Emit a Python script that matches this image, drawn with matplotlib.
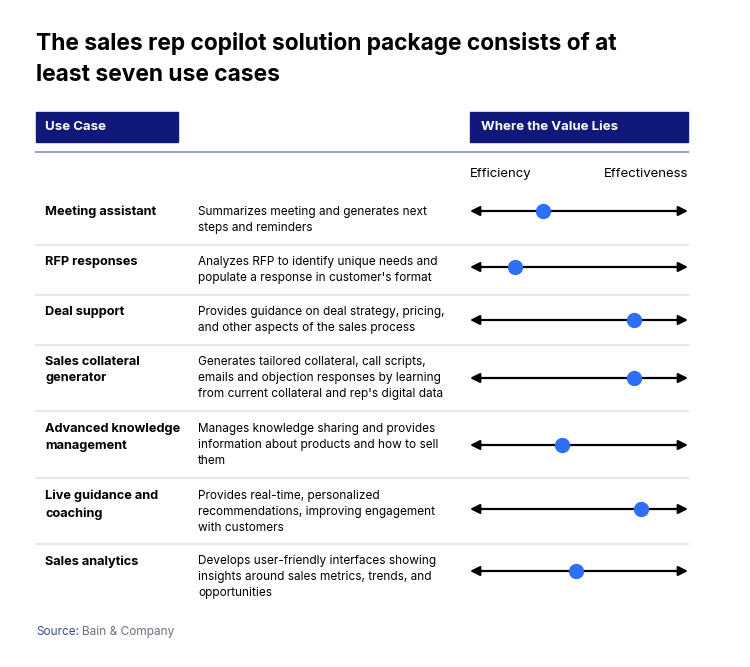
import matplotlib.pyplot as plt

plt.rcParams['font.family'] = ['Inter', 'DejaVu Sans']

# data
use_cases = ["Meeting assistant", "RFP responses", "Deal support",
             "Sales collateral\ngenerator", "Advanced knowledge\nmanagement",
             "Live guidance and\ncoaching", "Sales analytics"]
descriptions = [
    "Summarizes meeting and generates next\nsteps and reminders",
    "Analyzes RFP to identify unique needs and\npopulate a response in customer's format",
    "Provides guidance on deal strategy, pricing,\nand other aspects of the sales process",
    "Generates tailored collateral, call scripts,\nemails and objection responses by learning\nfrom current collateral and rep's digital data",
    "Manages knowledge sharing and provides\ninformation about products and how to sell\nthem",
    "Provides real-time, personalized\nrecommendations, improving engagement\nwith customers",
    "Develops user-friendly interfaces showing\ninsights around sales metrics, trends, and\nopportunities",
]
# 0 = Efficiency, 1 = Effectiveness
value_pos = [0.335, 0.206, 0.752, 0.752, 0.42, 0.784, 0.486]

# layout (pixels)
text_y = [211, 261, 311, 361, 428, 495, 560]
arrow_y = [211, 267, 320, 378, 445, 509, 571]
sep_y = [245, 295, 345, 411, 478, 544]
ax0, ax1 = 470, 688
navy = "#10197a"

fig = plt.figure(figsize=(7.5, 6.67), dpi=100)
ax = fig.add_axes([0, 0, 1, 1])
ax.set_xlim(0, 750)
ax.set_ylim(667, 0)
ax.axis("off")

ax.text(36, 59, "The sales rep copilot solution package consists of at\nleast seven use cases",
        fontsize=16.4, fontweight="bold", va="center", ha="left", linespacing=1.55)

# header boxes
ax.add_patch(plt.Rectangle((36, 112), 142, 30, color=navy))
ax.add_patch(plt.Rectangle((470, 112), 218, 30, color=navy))
ax.text(45, 127, "Use Case", color="white", fontsize=9.5, fontweight="bold", va="center")
ax.text(481, 127, "Where the Value Lies", color="white", fontsize=9.5, fontweight="bold", va="center")
ax.plot([36, 688], [152, 152], color="#9aa5d1", lw=1.5)

ax.text(470, 174, "Efficiency", fontsize=9.5, va="center", ha="left")
ax.text(688, 174, "Effectiveness", fontsize=9.5, va="center", ha="right")

for y in sep_y:
    ax.plot([36, 688], [y, y], color="#e3e7f2", lw=1.5)

for name, desc, v, ty, ay in zip(use_cases, descriptions, value_pos, text_y, arrow_y):
    ax.text(45, ty - 5, name, fontsize=9.2, fontweight="bold", va="top", linespacing=1.5)
    ax.text(198, ty - 5, desc, fontsize=8.5, va="top", linespacing=1.45)
    ax.annotate("", xy=(ax1, ay), xytext=(ax0, ay),
                arrowprops=dict(arrowstyle="<|-|>", color="black", lw=1.6,
                                mutation_scale=14, shrinkA=0, shrinkB=0))
    ax.plot(ax0 + v * (ax1 - ax0), ay, "o", ms=10, color="#2f6ff5", zorder=5)

ax.text(36, 632, "Source:", fontsize=8.5, color="#3c4a94", va="center")
ax.text(82, 632, "Bain & Company", fontsize=8.5, color="#6b7080", va="center")

fig.savefig("out.png", dpi=100)
